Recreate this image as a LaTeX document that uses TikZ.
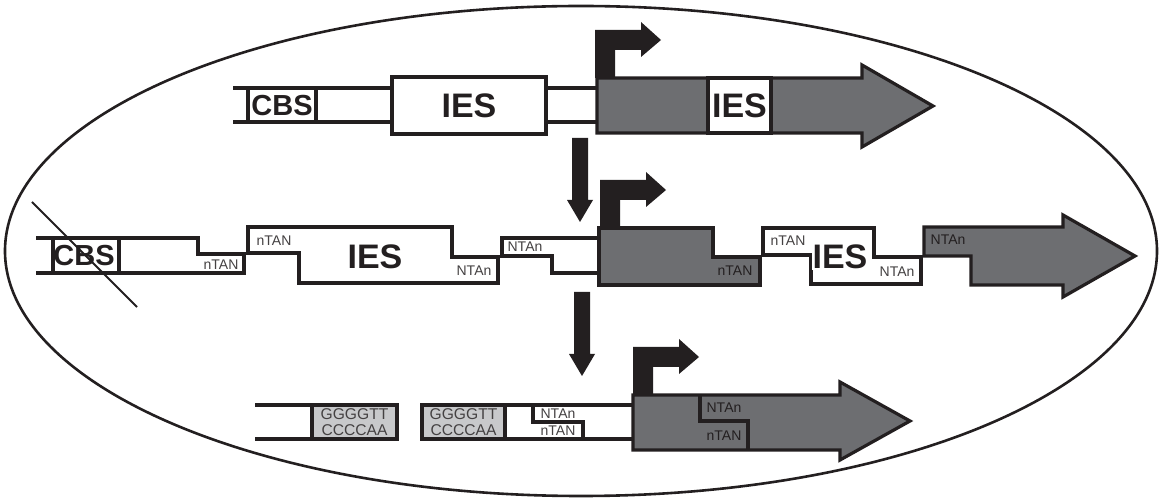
\documentclass[tikz,border=0pt]{standalone}
\usepackage{fontspec}
\setmainfont{Liberation Sans}
\usepackage{tikz}
\usepackage{xcolor}
\definecolor{ink}{HTML}{231F20}
\definecolor{genegray}{HTML}{6D6E71}
\definecolor{telgray}{HTML}{C8C9CB}

\begin{document}
\begin{tikzpicture}[x=0.5pt,y=-0.5pt,
  dna/.style={draw=ink,line width=1.6pt},
  gene/.style={dna,fill=genegray},
  seg/.style={dna,fill=white},
  tel/.style={dna,fill=telgray},
  big/.style={font=\bfseries\fontsize{17}{17}\selectfont,text=ink,inner sep=0.5pt},
  cbs/.style={font=\bfseries\fontsize{14.5}{14.5}\selectfont,text=ink,inner sep=0.5pt},
  tag/.style={font=\fontsize{7}{7}\selectfont,text=ink!85,inner sep=0.6pt},
  gtag/.style={tag,text=ink},
  seq/.style={font=\fontsize{7.8}{8}\selectfont,text=ink!85,align=center,inner sep=0pt},
  promoter/.pic={\fill[ink] (0,0) -- ++(0,-48) -- ++(46,0) -- ++(0,-8) -- ++(20,18) -- ++(-20,17) -- ++(0,-7) -- ++(-26,0) -- ++(0,28) -- cycle;},
  down/.pic={\fill[ink] (-8,0) -- (8,0) -- (8,62) -- (13,62) -- (0,84) -- (-13,62) -- (-8,62) -- cycle;}]
  \useasboundingbox (0,0) rectangle (1160,501);
  \draw[ink,line width=1.3pt] (581,251) ellipse [x radius=576, y radius=245];
  % micronuclear locus
  \draw[dna] (233,88) -- (597,88) (233,122) -- (597,122);
  \draw[seg] (248,88) rectangle (316,122); \node[cbs] (cbs1) at (282,105.5) {CBS};
  \draw[seg] (392,77) rectangle (546,134); \node[big] (ies1) at (469,105.5) {IES};
  \draw[gene] (597,78) -- (862,78) -- (862,65) -- (933,106) -- (862,147) -- (862,133) -- (597,133) -- cycle;
  \draw[seg] (708,78) rectangle (771,133); \node[big] (ies2) at (739.5,105.5) {IES};
  \pic at (595,78) {promoter};
  \pic at (580,138) {down};
  % excision at the NTA repeats
  \draw[dna] (36,238) -- (198,238) -- (198,254) -- (244,254) -- (244,273) -- (36,273);
  \draw[seg] (53,238) rectangle (119,273); \node[cbs] (cbs2) at (84,256) {CBS};
  \node[tag] (t1) at (221,265) {nTAN};
  \draw[ink,line width=1pt] (32,202) -- (137,307);
  \draw[seg] (248,227) -- (452,227) -- (452,257) -- (498,257) -- (498,283) -- (299,283) -- (299,253) -- (248,253) -- cycle;
  \node[tag] (t2) at (274,241) {nTAN}; \node[big] (ies3) at (375,257) {IES}; \node[tag] (t3) at (474,271) {NTAn};
  \draw[dna] (599,238) -- (502,238) -- (502,256) -- (552,256) -- (552,273) -- (599,273);
  \node[tag] (t4) at (525,247) {NTAn};
  \draw[gene] (599,228) -- (713,228) -- (713,257) -- (760,257) -- (760,285) -- (599,285) -- cycle;
  \node[gtag] (t5) at (735,271) {nTAN};
  \pic at (600,228) {promoter};
  \draw[seg] (763,228) -- (874,228) -- (874,257) -- (921,257) -- (921,284) -- (811,284) -- (811,255) -- (763,255) -- cycle;
  \node[tag] (t6) at (788,241) {nTAN}; \node[big,fill=white] (ies4) at (840,257) {IES}; \node[tag] (t7) at (897,272) {NTAn};
  \draw[gene] (924,227) -- (1063,227) -- (1063,215) -- (1135,256) -- (1063,297) -- (1063,285) -- (971,285) -- (971,256) -- (924,256) -- cycle;
  \node[gtag] (t8) at (948,240) {NTAn};
  \pic at (582,292) {down};
  % macronuclear chromosome with telomeres
  \draw[dna] (255,405) -- (312,405) (255,439) -- (312,439);
  \draw[tel] (312,405) rectangle (397,439); \node[seq] (tel1) at (354.5,422) {GGGGTT\\CCCCAA};
  \draw[tel] (422,405) rectangle (505,439); \node[seq] (tel2) at (463.5,422) {GGGGTT\\CCCCAA};
  \draw[dna] (505,405) -- (633,405) (505,439) -- (633,439);
  \draw[dna] (533,405) -- (533,422) -- (583,422) -- (583,439);
  \node[tag] (t9) at (558,414) {NTAn}; \node[tag] (t10) at (558,431) {nTAN};
  \draw[gene] (633,395) -- (840,395) -- (840,382) -- (910,421) -- (840,460) -- (840,450) -- (633,450) -- cycle;
  \draw[dna] (700,395) -- (700,421) -- (748,421) -- (748,450);
  \node[gtag] (t11) at (724,408) {NTAn}; \node[gtag] (t12) at (724,436) {nTAN};
  \pic at (633,395) {promoter};
\end{tikzpicture}
\end{document}
